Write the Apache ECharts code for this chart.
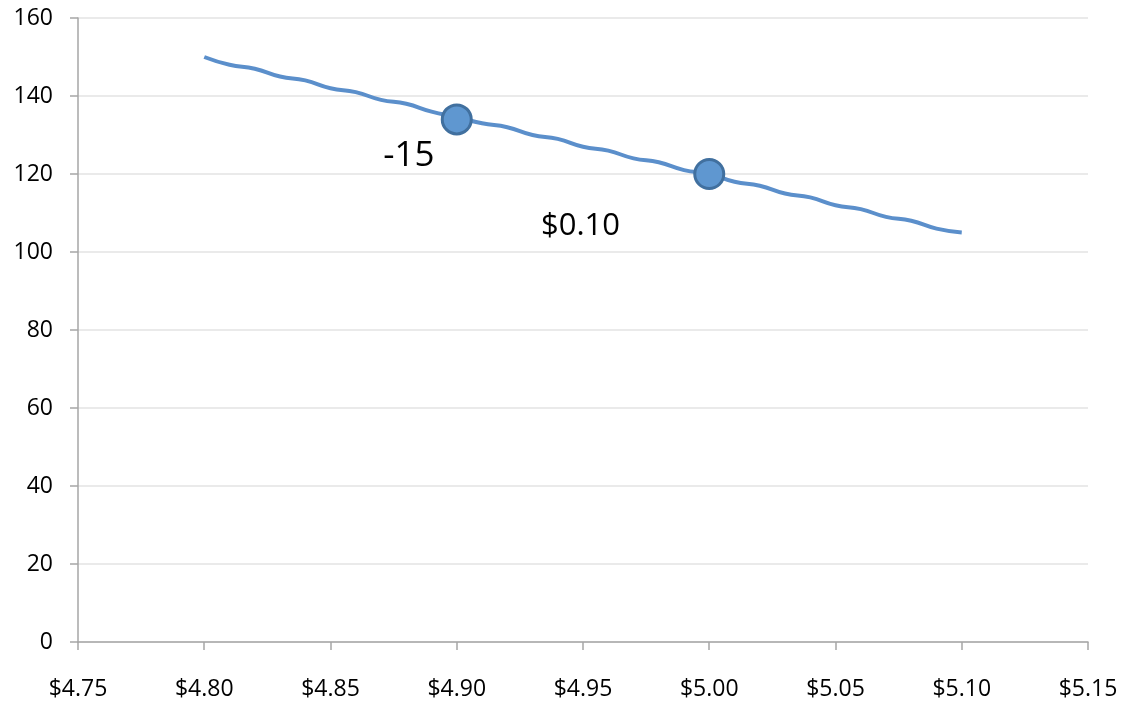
<!DOCTYPE html>
<html>
<head>
<meta charset="utf-8">
<script src="https://cdn.jsdelivr.net/npm/echarts@6/dist/echarts.min.js"></script>
<style>
  html, body { margin: 0; padding: 0; background: #fff; }
  #main { width: 1123px; height: 702px; }
</style>
</head>
<body>
<div id="main"></div>
<script>
// demand curve, every $0.01
var prices = [4.80, 4.81, 4.82, 4.83, 4.84, 4.85, 4.86, 4.87, 4.88, 4.89,
              4.90, 4.91, 4.92, 4.93, 4.94, 4.95, 4.96, 4.97, 4.98, 4.99,
              5.00, 5.01, 5.02, 5.03, 5.04, 5.05, 5.06, 5.07, 5.08, 5.09, 5.10];
var quantities = [150, 148, 147, 145, 144, 142, 141, 139, 138, 136,
                  134.6, 133, 132, 130, 129, 127, 126, 124, 123, 121,
                  120, 118, 117, 115, 114, 112, 111, 109, 108, 106, 105];

// the two marked points
var markPrices = [4.90, 5.00];
var markQuantities = [134, 120];

// text notes: change in quantity and change in price
var noteTexts = ['-15', '$0.10'];
var notePositions = [[4.881, 124.5], [4.949, 106.5]];
var noteSizes = [35, 31];

var xTicks = { min: 4.75, max: 5.15, step: 0.05 };
var yTicks = { min: 0, max: 160, step: 20 };

var font = 'Open Sans';

initChart();

function initChart() {
    var myChart = echarts.init(document.getElementById('main'));

    var lineData = prices.map(function (p, i) { return [p, quantities[i]]; });
    var markData = markPrices.map(function (p, i) { return [p, markQuantities[i]]; });
    var noteData = notePositions.map(function (p, i) {
        return { value: p, name: noteTexts[i], label: { fontSize: noteSizes[i] } };
    });

    myChart.setOption({
        animation: false,
        grid: { left: 78, right: 35, top: 18, bottom: 60 },
        xAxis: {
            type: 'value',
            min: xTicks.min,
            max: xTicks.max,
            interval: xTicks.step,
            axisLine: { lineStyle: { color: '#a6a6a6', width: 1.5 } },
            axisTick: { show: true, length: 8, lineStyle: { color: '#a6a6a6', width: 1.5 } },
            splitLine: { show: false },
            axisLabel: {
                color: '#000', fontFamily: font, fontSize: 23, margin: 36,
                formatter: function (v) { return '$' + v.toFixed(2); }
            }
        },
        yAxis: {
            type: 'value',
            min: yTicks.min,
            max: yTicks.max,
            interval: yTicks.step,
            axisLine: { show: true, lineStyle: { color: '#a6a6a6', width: 1.5 } },
            axisTick: { show: true, length: 8, lineStyle: { color: '#a6a6a6', width: 1.5 } },
            splitLine: { lineStyle: { color: '#e3e3e3', width: 1.5 } },
            axisLabel: {
                color: '#000', fontFamily: font, fontSize: 23, margin: 25,
                padding: [9, 0, 0, 0]
            }
        },
        series: [
            {
                type: 'line',
                data: lineData,
                smooth: 0.5,
                showSymbol: false,
                lineStyle: { color: '#5b8fcb', width: 4 },
                z: 2
            },
            {
                type: 'scatter',
                data: markData,
                symbolSize: 29,
                itemStyle: { color: '#5f97d0', borderColor: '#41709f', borderWidth: 3, opacity: 1 },
                z: 3
            },
            {
                type: 'scatter',
                data: noteData,
                symbolSize: 0,
                itemStyle: { opacity: 1 },
                label: {
                    show: true,
                    position: 'inside',
                    formatter: '{b}',
                    color: '#000',
                    opacity: 1,
                    textBorderWidth: 0,
                    fontFamily: font
                },
                z: 4
            }
        ]
    });
}
</script>
</body>
</html>
